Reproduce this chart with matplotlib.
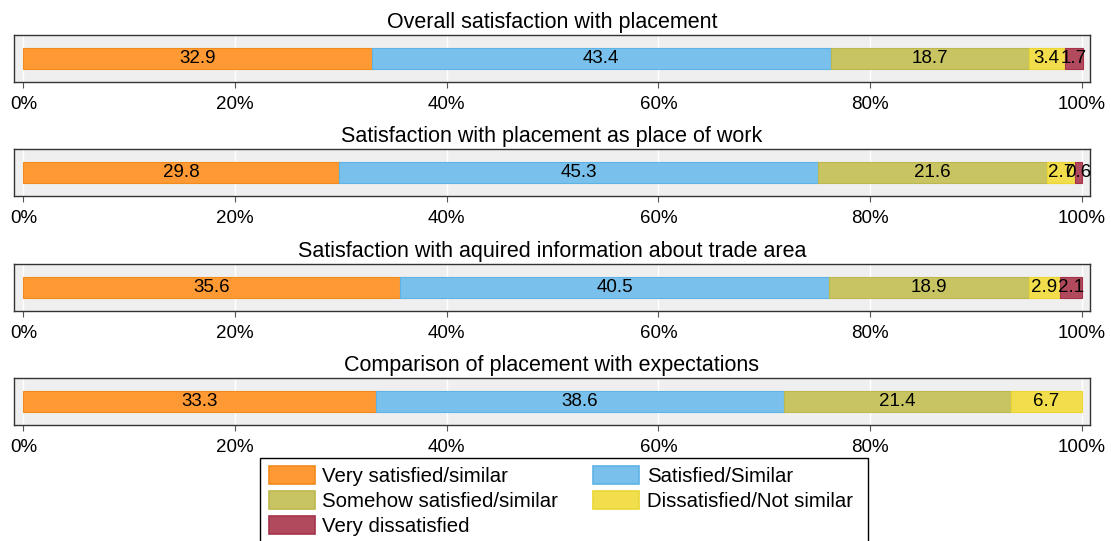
import matplotlib
matplotlib.use("Agg")
import matplotlib.pyplot as plt
from matplotlib.patches import Patch, Rectangle

plt.rcParams['font.family'] = ['Liberation Sans', 'DejaVu Sans']

titles = ["Overall satisfaction with placement",
          "Satisfaction with placement as place of work",
          "Satisfaction with aquired information about trade area",
          "Comparison of placement with expectations"]
categories = ["Very satisfied/similar", "Satisfied/Similar",
              "Somehow satisfied/similar", "Dissatisfied/Not similar",
              "Very dissatisfied"]
values = [
    [32.9, 43.4, 18.7, 3.4, 1.7],
    [29.8, 45.3, 21.6, 2.7, 0.6],
    [35.6, 40.5, 18.9, 2.9, 2.1],
    [33.3, 38.6, 21.4, 6.7, 0.0],
]
tick_vals = [0, 20, 40, 60, 80, 100]
tick_labels = ["0%", "20%", "40%", "60%", "80%", "100%"]

face = ["#FF9933", "#79C1EC", "#C8C462", "#F2DE4C", "#B24A5E"]
edge = ["#F28A1E", "#5EB3E6", "#BDB84E", "#EBD634", "#A53249"]

W, H = 1111, 541
fig = plt.figure(figsize=(W / 100, H / 100), dpi=100)
fs_tick = 13.5
fs_lab = 13.5
fs_title = 15.5
fs_leg = 14.7

tops = [35, 149, 264, 378]
for i, (title, vals) in enumerate(zip(titles, values)):
    top = tops[i]
    bot = top + 47
    ax = fig.add_axes([14 / W, 1 - bot / H, 1076 / W, 47 / H])
    ax.set_facecolor("#EFEFEF")
    ax.set_xlim(-0.88, 100.78)
    ax.set_ylim(-0.5, 0.5)
    for t in tick_vals:
        ax.axvline(t, color="white", lw=1.0, zorder=0)
    left = 0.0
    for j, v in enumerate(vals):
        if v > 0:
            ax.barh(0, v, left=left, height=0.43, color=face[j],
                    edgecolor=edge[j], linewidth=0.8, zorder=2)
            ax.text(left + v / 2, -0.01, f"{v:.1f}", ha="center", va="center",
                    fontsize=fs_lab, color="black", zorder=3)
        left += v
    ax.set_yticks([])
    ax.set_xticks(tick_vals)
    ax.set_xticklabels(tick_labels, fontsize=fs_tick)
    ax.tick_params(axis="x", length=4, width=0.8, color="#555555", pad=6)
    for s in ax.spines.values():
        s.set_color("#333333")
        s.set_linewidth(1.0)
    ax.set_title(title, fontsize=fs_title, pad=5)

handles = [Patch(facecolor=face[j], edgecolor=edge[j], linewidth=1.2) for j in range(5)]
order = [0, 2, 4, 1, 3]
leg = fig.legend([handles[k] for k in order], [categories[k] for k in order],
                 loc="upper left", bbox_to_anchor=(260 / W, 1 - 457 / H),
                 ncol=2, fontsize=fs_leg, frameon=False,
                 handlelength=2.25, handleheight=1.0,
                 handletextpad=0.39, columnspacing=1.7, labelspacing=0.24,
                 borderpad=0.42, borderaxespad=0)
fig.add_artist(Rectangle((260 / W, 1 - 560 / H), 608 / W, 102 / H,
                         transform=fig.transFigure, facecolor="none",
                         edgecolor="black", linewidth=1.0, clip_on=False))

fig.savefig("out.png", dpi=100)
